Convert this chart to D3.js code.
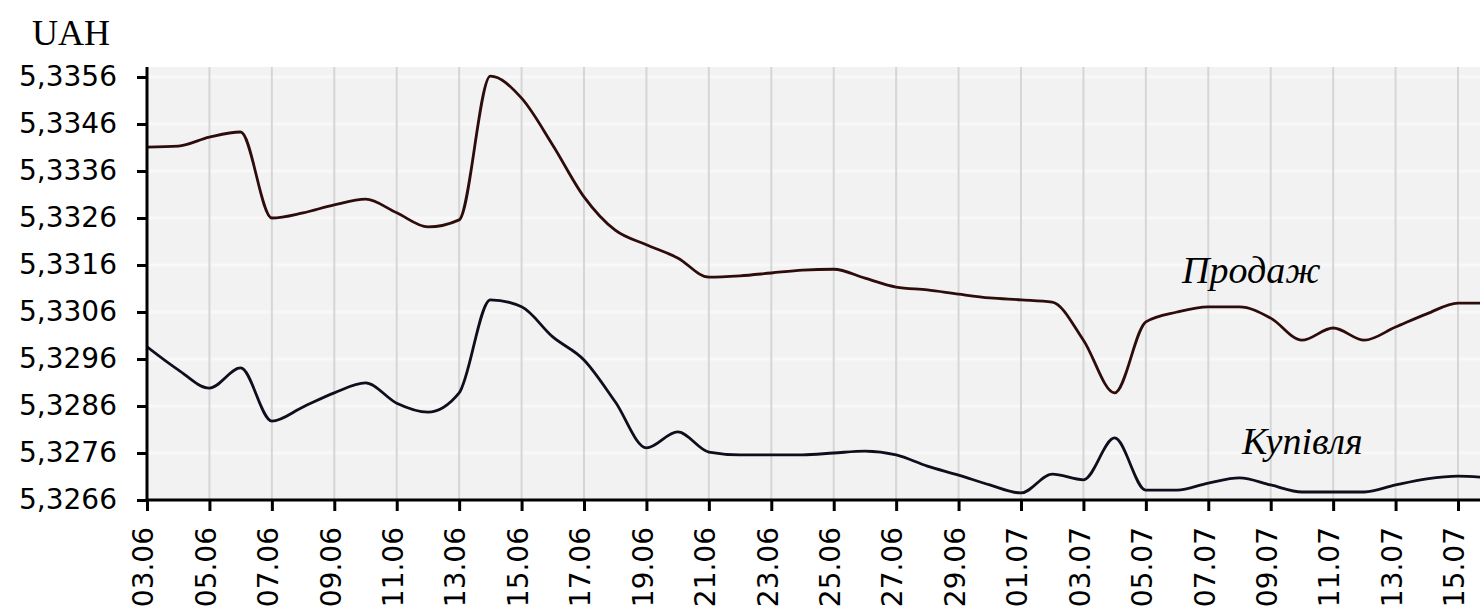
<!DOCTYPE html>
<html>
<head>
<meta charset="utf-8">
<script src="https://cdnjs.cloudflare.com/ajax/libs/d3/7.8.5/d3.min.js"></script>
<style>
  body{margin:0;background:#fff;}
  svg{display:block;}
</style>
</head>
<body>
<div id="chart"></div>
<script>
// dates (dd.mm), one point per day
var days=["03.06","04.06","05.06","06.06","07.06","08.06","09.06","10.06","11.06","12.06",
          "13.06","14.06","15.06","16.06","17.06","18.06","19.06","20.06","21.06","22.06",
          "23.06","24.06","25.06","26.06","27.06","28.06","29.06","30.06","01.07","02.07",
          "03.07","04.07","05.07","06.07","07.07","08.07","09.07","10.07","11.07","12.07",
          "13.07","14.07","15.07","16.07"];

// Продаж (sell)
var sell=[5.33411,5.33413,5.33432,5.33443,5.33260,5.33271,5.33288,5.33300,5.33271,5.33241,
          5.33256,5.33562,5.33515,5.33415,5.33305,5.33234,5.33203,5.33175,5.33134,5.33137,
          5.33143,5.33149,5.33151,5.33132,5.33113,5.33107,5.33098,5.33090,5.33086,5.33081,
          5.33000,5.32888,5.33039,5.33060,5.33071,5.33071,5.33047,5.33000,5.33026,5.33000,
          5.33028,5.33056,5.33079,5.33079];

// Купівля (buy)
var buy=[5.32986,5.32937,5.32898,5.32941,5.32828,5.32858,5.32888,5.32909,5.32866,5.32847,
         5.32888,5.33086,5.33071,5.33007,5.32958,5.32869,5.32771,5.32805,5.32762,5.32756,
         5.32756,5.32756,5.32760,5.32764,5.32756,5.32732,5.32713,5.32692,5.32675,5.32715,
         5.32703,5.32792,5.32681,5.32681,5.32696,5.32707,5.32692,5.32677,5.32677,5.32677,
         5.32692,5.32705,5.32711,5.32707];

var xTicks=["03.06","05.06","07.06","09.06","11.06","13.06","15.06","17.06","19.06","21.06","23.06",
            "25.06","27.06","29.06","01.07","03.07","05.07","07.07","09.07","11.07","13.07","15.07"];
var yTicks=[5.3266,5.3276,5.3286,5.3296,5.3306,5.3316,5.3326,5.3336,5.3346,5.3356];

var W=1480,H=611;
var pLeft=147,pRight=1480,pTop=67,pBottom=500;

var parse=d3.timeParse("%d.%m.%Y");
function toDate(s){ return parse(s+".2013"); }

var x=d3.scaleTime()
        .domain([toDate("03.06"),toDate("15.07")])
        .range([147,1458]);
var y=d3.scaleLinear()
        .domain([5.3266,5.3356])
        .range([500,77]);

var svg=d3.select("#chart").append("svg")
          .attr("width",W)
          .attr("height",H);

svg.append("defs").append("clipPath").attr("id","plotclip")
   .append("rect")
   .attr("x",pLeft).attr("y",pTop)
   .attr("width",pRight-pLeft).attr("height",pBottom-pTop);

// plot background
svg.append("rect")
   .attr("x",pLeft).attr("y",pTop)
   .attr("width",pRight-pLeft).attr("height",pBottom-pTop)
   .attr("fill","#f2f2f2");

// faint horizontal bands
svg.append("g").selectAll("line").data(yTicks).enter().append("line")
   .attr("x1",pLeft).attr("x2",pRight)
   .attr("y1",function(d){return y(d);})
   .attr("y2",function(d){return y(d);})
   .attr("stroke","#f8f8f8")
   .attr("stroke-width",3);

// vertical grid
svg.append("g").selectAll("line").data(xTicks).enter().append("line")
   .attr("x1",function(d){return x(toDate(d));})
   .attr("x2",function(d){return x(toDate(d));})
   .attr("y1",pTop).attr("y2",pBottom)
   .attr("stroke","#d6d6d6")
   .attr("stroke-width",2);

var line=d3.line()
           .x(function(d,i){return x(toDate(days[i]));})
           .y(function(d){return y(d);})
           .curve(d3.curveMonotoneX);

var plot=svg.append("g").attr("clip-path","url(#plotclip)");
plot.append("path").datum(sell)
    .attr("d",line)
    .attr("fill","none")
    .attr("stroke","#2e0c0c")
    .attr("stroke-width",2.8);
plot.append("path").datum(buy)
    .attr("d",line)
    .attr("fill","none")
    .attr("stroke","#0e0e1c")
    .attr("stroke-width",2.8);

// axes
var fmt=function(d){ return d3.format(".4f")(d).replace(".",","); };

var yAxis=svg.append("g")
   .attr("transform","translate("+pLeft+",0)")
   .call(d3.axisLeft(y).tickValues(yTicks).tickFormat(fmt).tickSize(10).tickPadding(20));
yAxis.select(".domain").remove();
yAxis.append("line")
   .attr("x1",0).attr("x2",0).attr("y1",pTop).attr("y2",pBottom+1.5)
   .attr("stroke","#000").attr("stroke-width",3);

var xAxis=svg.append("g")
   .attr("transform","translate(0,"+pBottom+")")
   .call(d3.axisBottom(x).tickValues(xTicks.map(toDate)).tickFormat(d3.timeFormat("%d.%m")).tickSize(11));
xAxis.select(".domain").remove();
xAxis.append("line")
   .attr("x1",pLeft-1.5).attr("x2",pRight).attr("y1",0).attr("y2",0)
   .attr("stroke","#000").attr("stroke-width",3);

svg.selectAll(".tick line").attr("stroke","#000").attr("stroke-width",3);
svg.selectAll(".tick text")
   .attr("fill","#000")
   .style("font-family","'DejaVu Sans', Verdana, sans-serif")
   .style("font-size","28px");

xAxis.selectAll(".tick text")
   .attr("transform","rotate(-90)")
   .attr("text-anchor","end")
   .attr("x",-27)
   .attr("y",-4)
   .attr("dy","0.35em");

// labels
svg.append("text")
   .attr("x",32).attr("y",45)
   .style("font-family","'Liberation Serif', 'Times New Roman', serif")
   .style("font-size","36px")
   .text("UAH");

svg.append("text")
   .attr("x",1182).attr("y",283)
   .style("font-family","'Liberation Serif', 'Times New Roman', serif")
   .style("font-style","italic")
   .style("font-size","38px")
   .text("Продаж");

svg.append("text")
   .attr("x",1242).attr("y",454)
   .style("font-family","'Liberation Serif', 'Times New Roman', serif")
   .style("font-style","italic")
   .style("font-size","38px")
   .text("Купівля");
</script>
</body>
</html>
